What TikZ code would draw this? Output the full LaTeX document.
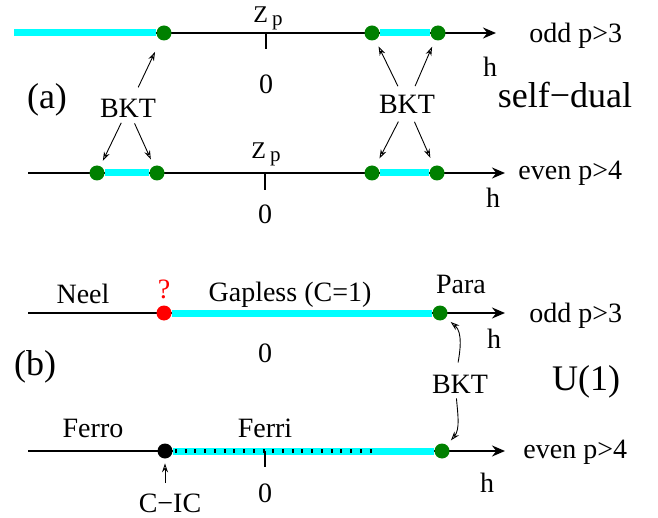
\documentclass[tikz,border=0pt]{standalone}
\usepackage{fontspec}
\setmainfont{Liberation Serif}
\usetikzlibrary{arrows.meta,backgrounds}
\definecolor{gl}{HTML}{00FFFF}
\definecolor{kt}{HTML}{008000}
\definecolor{qm}{HTML}{FF0000}
\newcommand{\Zp}{{\fontsize{12}{14}\selectfont Z\kern2pt\raisebox{-1.5pt}{\fontsize{10.5}{12}\selectfont p}}}

\begin{document}
\begin{tikzpicture}[x=0.5pt,y=-0.5pt,
    axis/.style={line width=0.8pt,-{Stealth[length=6.5pt,width=5.5pt]}},
    tick/.style={line width=0.6pt},
    gapless/.style={line width=3.5pt,draw=gl},
    ferri/.style={line width=2.2pt,dash pattern=on 1pt off 3.865pt},
    crit/.style={circle,fill=kt,inner sep=0pt,minimum size=7.5pt},
    qcrit/.style={crit,fill=qm},
    cic/.style={crit,fill=black},
    lbl/.style={font=\fontsize{14}{16}\selectfont,inner sep=0pt},
    big/.style={font=\fontsize{18}{20}\selectfont,inner sep=0pt},
    note/.style={line width=0.45pt,-{Stealth[open,length=4.5pt,width=3pt]},shorten <=4pt,shorten >=3.5pt}]
  \useasboundingbox (0,0) rectangle (658,518);

  % (a) self-dual
  \coordinate (oa) at (14,33);  \coordinate (ha) at (496,33);
  \coordinate (ea) at (28,173); \coordinate (hea) at (505,173);
  \node[crit] (a1) at (164,33) {};
  \node[crit] (a2) at (372,33) {};
  \node[crit] (a3) at (438,33) {};
  \node[crit] (a4) at (97,173) {};
  \node[crit] (a5) at (157,173) {};
  \node[crit] (a6) at (372,173) {};
  \node[crit] (a7) at (437,173) {};

  \node[anchor=base west,inner sep=0pt] (zA) at (253,23) {\Zp};
  \node[lbl,anchor=base] (zeroA) at (266,94) {0};
  \node[lbl,anchor=base west] (oddA) at (529,43) {odd p>3};
  \node[lbl,anchor=base] (hA) at (490,77) {h};
  \node[big,anchor=base] (labA) at (47,109) {(a)};
  \node[lbl,anchor=base] (bktA) at (128,118) {BKT};
  \node[lbl,anchor=base] (bktB) at (407,114) {BKT};
  \node[big,anchor=base] (sd) at (565,108) {self−dual};
  \node[anchor=base west,inner sep=0pt] (zB) at (251,159) {\Zp};
  \node[lbl,anchor=base] (zeroB) at (265,224) {0};
  \node[lbl,anchor=base west] (evenA) at (518,180) {even p>4};
  \node[lbl,anchor=base] (hB) at (493,208) {h};

  \draw[note,shorten <=6.6pt,shorten >=6.5pt] (bktA) -- (a1);
  \draw[note,shorten <=2.4pt,shorten >=2.8pt] (bktA) -- (a4);
  \draw[note,shorten <=2.7pt] (bktA) -- (a5);
  \draw[note,shorten <=5pt] (bktB) -- (a2);
  \draw[note,shorten <=5pt] (bktB) -- (a3);
  \draw[note,shorten >=4.2pt] (bktB) -- (a6);
  \draw[note,shorten >=4.3pt] (bktB) -- (a7);

  % (b) U(1)
  \coordinate (ob) at (28,313); \coordinate (hb) at (505,313);
  \coordinate (eb) at (28,451); \coordinate (heb) at (505,451);
  \coordinate (fa) at (175,451); \coordinate (fb) at (379,451);
  \node[qcrit] (b1) at (164,313) {};
  \node[crit] (b2) at (440,313) {};
  \node[cic] (b3) at (165,451) {};
  \node[crit] (b4) at (442,451) {};

  \node[lbl,anchor=base] (neel) at (83,303) {Neel};
  \node[lbl,anchor=base,text=qm] (qmark) at (164,298) {?};
  \node[lbl,anchor=base] (gap) at (290,301) {Gapless (C=1)};
  \node[lbl,anchor=base] (para) at (461,293) {Para};
  \node[lbl,anchor=base west] (oddB) at (529,322) {odd p>3};
  \node[lbl,anchor=base] (hC) at (494,348) {h};
  \node[lbl,anchor=base] (zeroC) at (265,362) {0};
  \node[big,anchor=base] (labB) at (35,375) {(b)};
  \node[lbl,anchor=base] (bktC) at (460,393) {BKT};
  \node[big,anchor=base] (u1) at (586,390) {U(1)};
  \node[lbl,anchor=base] (ferro) at (93,437) {Ferro};
  \node[lbl,anchor=base] (ferriL) at (265,437) {Ferri};
  \node[lbl,anchor=base] (cicL) at (170,512) {C−IC};
  \node[lbl,anchor=base] (zeroD) at (265,502) {0};
  \node[lbl,anchor=base west] (evenB) at (523,458) {even p>4};
  \node[lbl,anchor=base] (hD) at (487,492) {h};

  \draw[note,shorten <=6pt,shorten >=3pt] ([xshift=-2pt]bktC.north) to[out=80,in=-40] (b2);
  \draw[note,shorten <=2.5pt,shorten >=3pt] ([xshift=-2pt]bktC.south) to[out=-85,in=50] (b4);
  \draw[note,shorten <=5pt,shorten >=2.2pt] (cicL.north -| b3) -- (b3);

  \begin{pgfonlayer}{background}
    \draw[axis] (oa) -- (ha);
    \draw[axis] (ea) -- (hea);
    \draw[axis] (ob) -- (hb);
    \draw[axis] (eb) -- (heb);
    \draw[gapless] (oa) -- (a1);
    \draw[gapless] (a2) -- (a3);
    \draw[gapless] (a4) -- (a5);
    \draw[gapless] (a6) -- (a7);
    \draw[gapless] (b1) -- (b2);
    \draw[gapless] (b3) -- (b4);
    \draw[ferri] (fa) -- (fb);
    \draw[tick] (266,33) -- (266,49);
    \draw[tick] (265,173) -- (265,190);
    \draw[tick] (265,451) -- (265,467);
  \end{pgfonlayer}
\end{tikzpicture}
\end{document}
